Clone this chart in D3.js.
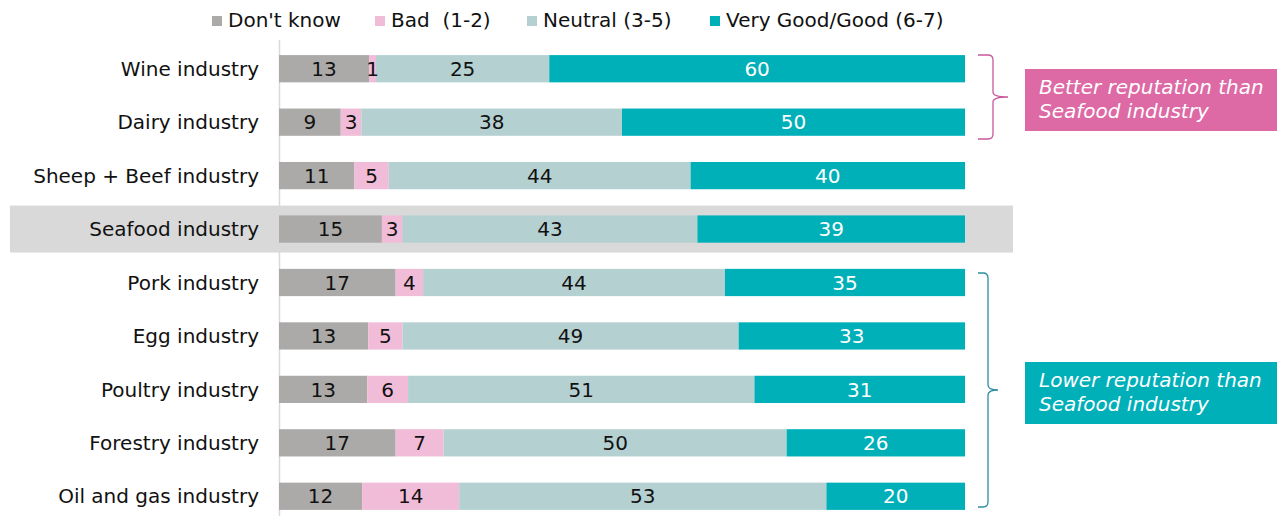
<!DOCTYPE html>
<html>
<head>
<meta charset="utf-8">
<script src="https://cdn.jsdelivr.net/npm/d3@7"></script>
<style>
  body { margin: 0; background: #fff; }
  svg { display: block; font-family: "DejaVu Sans", Verdana, sans-serif; }
</style>
</head>
<body>
<svg width="1281" height="516"></svg>
<script>
// Datos
const industries = ["Wine industry", "Dairy industry", "Sheep + Beef industry", "Seafood industry",
  "Pork industry", "Egg industry", "Poultry industry", "Forestry industry", "Oil and gas industry"];
const seriesNames = ["Don't know", "Bad  (1-2)", "Neutral (3-5)", "Very Good/Good (6-7)"];
const dontKnow = [13, 9, 11, 15, 17, 13, 13, 17, 12];
const bad      = [1, 3, 5, 3, 4, 5, 6, 7, 14];
const neutral  = [25, 38, 44, 43, 44, 49, 51, 50, 53];
const good     = [60, 50, 40, 39, 35, 33, 31, 26, 20];
const colors = ["#abaaa8", "#f1bcd8", "#b5d0d1", "#00b0b9"];
const textColors = ["#111", "#111", "#111", "#fff"];

const rows = industries.map((name, i) => ({
  name, s0: dontKnow[i], s1: bad[i], s2: neutral[i], s3: good[i]
}));
const keys = ["s0", "s1", "s2", "s3"];

const svg = d3.select("svg");
const fs = 20;

const y = d3.scaleBand().domain(industries).range([42, 523]).paddingInner(0.49).paddingOuter(0.245);
const x = d3.scaleLinear().domain([0, 1]).range([279, 965]);

const stack = d3.stack().keys(keys).offset(d3.stackOffsetExpand);
const series = stack(rows);

// Banda de resaltado para Seafood
const hy = y("Seafood industry") + y.bandwidth() / 2;
svg.append("rect").attr("x", 10).attr("y", hy - 23.5).attr("width", 1003).attr("height", 47).attr("fill", "#d9d9d9");

// Eje vertical
svg.append("line").attr("x1", 279.5).attr("x2", 279.5).attr("y1", 40).attr("y2", 516)
  .attr("stroke", "#d9d9d9").attr("stroke-width", 1.5);

// Barras
const layer = svg.selectAll("g.layer").data(series).enter().append("g").attr("class", "layer")
  .attr("fill", (d, i) => colors[i]);

layer.selectAll("rect").data(d => d).enter().append("rect")
  .attr("x", d => x(d[0]))
  .attr("y", d => y(d.data.name))
  .attr("width", d => x(d[1]) - x(d[0]))
  .attr("height", y.bandwidth());

// Etiquetas de valor
series.forEach((s, i) => {
  svg.append("g").selectAll("text").data(s).enter().append("text")
    .attr("x", d => (x(d[0]) + x(d[1])) / 2)
    .attr("y", d => y(d.data.name) + y.bandwidth() / 2)
    .attr("dy", "0.36em")
    .attr("text-anchor", "middle")
    .attr("font-size", fs)
    .attr("fill", textColors[i])
    .text(d => d.data[s.key]);
});

// Etiquetas de categoría
svg.append("g").selectAll("text").data(industries).enter().append("text")
  .attr("x", 259)
  .attr("y", d => y(d) + y.bandwidth() / 2)
  .attr("dy", "0.36em")
  .attr("text-anchor", "end")
  .attr("font-size", fs)
  .attr("fill", "#111")
  .text(d => d);

// Leyenda
const legendX = [212, 375, 527, 710];
const legend = svg.append("g").selectAll("g").data(seriesNames).enter().append("g")
  .attr("transform", (d, i) => `translate(${legendX[i]}, 0)`);
legend.append("rect").attr("x", 0).attr("y", 16).attr("width", 10).attr("height", 10)
  .attr("fill", (d, i) => colors[i]);
legend.append("text").attr("x", 16).attr("y", 20).attr("dy", "0.36em")
  .attr("font-size", fs).attr("fill", "#111")
  .style("white-space", "pre")
  .text(d => d);

// Llaves
function brace(x0, xv, xn, yTop, yMid, yBot) {
  const r = 5;
  return `M${x0},${yTop} L${xv - r},${yTop} Q${xv},${yTop} ${xv},${yTop + r} ` +
    `L${xv},${yMid - r} Q${xv},${yMid} ${xn},${yMid} Q${xv},${yMid} ${xv},${yMid + r} ` +
    `L${xv},${yBot - r} Q${xv},${yBot} ${xv - r},${yBot} L${x0},${yBot}`;
}
svg.append("path").attr("d", brace(978, 993, 1008, 55, 97, 139))
  .attr("fill", "none").attr("stroke", "#c9579b").attr("stroke-width", 1.3);
svg.append("path").attr("d", brace(978, 988, 998, 273, 390, 507))
  .attr("fill", "none").attr("stroke", "#2b8da1").attr("stroke-width", 1.3);

// Cajas de anotación
const notes = [
  { y: 69, fill: "#dd69a5", lines: ["Better reputation than", "Seafood industry"] },
  { y: 362, fill: "#00b0b9", lines: ["Lower reputation than", "Seafood industry"] }
];
notes.forEach(n => {
  svg.append("rect").attr("x", 1025).attr("y", n.y).attr("width", 252).attr("height", 62).attr("fill", n.fill);
  n.lines.forEach((t, j) => {
    svg.append("text").attr("x", 1039).attr("y", n.y + 18 + j * 24).attr("dy", "0.36em")
      .attr("font-size", fs).attr("font-style", "italic").attr("fill", "#fff").text(t);
  });
});
</script>
</body>
</html>
